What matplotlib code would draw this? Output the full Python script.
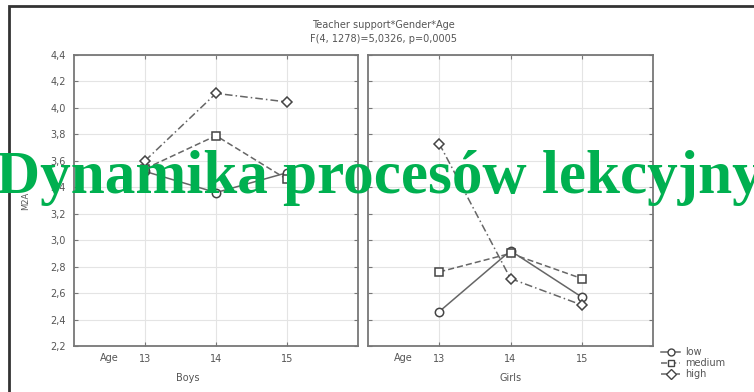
import matplotlib
matplotlib.use("Agg")
import matplotlib.pyplot as plt
from matplotlib.lines import Line2D
from matplotlib.patches import Rectangle

# mean scores by teacher-support level, for ages 13-15
ages = [13, 14, 15]
age_labels = ["13", "14", "15"]
levels = ["low", "medium", "high"]
boys_low = [3.52, 3.36, 3.51]
boys_medium = [3.54, 3.79, 3.46]
boys_high = [3.60, 4.11, 4.045]
girls_low = [2.46, 2.92, 2.57]
girls_medium = [2.76, 2.90, 2.71]
girls_high = [3.73, 2.71, 2.51]
y_ticks = [2.2, 2.4, 2.6, 2.8, 3.0, 3.2, 3.4, 3.6, 3.8, 4.0, 4.2, 4.4]

W, H = 754, 392
fig = plt.figure(figsize=(W / 100, H / 100), dpi=100)

line_c = "#666666"
text_c = "#555555"
styles = {
    "low": dict(marker="o", linestyle="-"),
    "medium": dict(marker="s", linestyle=(0, (4, 2))),
    "high": dict(marker="D", linestyle=(0, (5, 2, 1, 2))),
}

# outer frame of the figure
fig.patches.append(Rectangle((9 / W, -0.05), 1.1, 1.05 - 6 / H, transform=fig.transFigure,
                             fill=False, edgecolor="#333333", linewidth=2))


def panel(left_px, right_px, series, xlabel, xlabel_x):
    ax = fig.add_axes([left_px / W, (H - 346) / H, (right_px - left_px) / W, 291 / H])
    for name, vals in zip(levels, series):
        st = styles[name]
        ax.plot(ages, vals, color=line_c, linewidth=1.1, linestyle=st["linestyle"],
                marker=st["marker"], markersize=6 if st["marker"] != "D" else 5,
                markerfacecolor="white", markeredgecolor="#444444", markeredgewidth=1.1)
    ax.set_xlim(12, 16)
    ax.set_ylim(2.2, 4.4)
    ax.set_xticks(ages)
    ax.set_xticklabels(age_labels)
    ax.set_yticks(y_ticks)
    ax.grid(True, color="#e4e4e4", linewidth=0.8)
    ax.set_axisbelow(True)
    ax.tick_params(direction="in", length=3, color="#777777", labelsize=7,
                   labelcolor=text_c, right=True, top=True, pad=6)
    for s in ax.spines.values():
        s.set_color("#777777")
        s.set_linewidth(1.3)
    ax.text(12.5, -12 / 291, "Age", transform=ax.get_xaxis_transform(), ha="center",
            va="center", fontsize=7, color=text_c)
    ax.text(xlabel_x, -32 / 291, xlabel, transform=ax.get_xaxis_transform(), ha="center",
            va="center", fontsize=7, color=text_c)
    return ax


ax1 = panel(74, 358, [boys_low, boys_medium, boys_high], "Boys", 13.6)
ax1.set_yticklabels([f"{v:.1f}".replace(".", ",") for v in y_ticks])
ax1.set_ylabel("M2A", fontsize=6, color=text_c, labelpad=14)
ax2 = panel(368, 653, [girls_low, girls_medium, girls_high], "Girls", 14.0)
ax2.set_yticklabels([])

fig.text(383 / W, 1 - 25 / H, "Teacher support*Gender*Age", ha="center", va="center",
         fontsize=7, color=text_c)
fig.text(383 / W, 1 - 39 / H, "F(4, 1278)=5,0326, p=0,0005", ha="center", va="center",
         fontsize=7, color=text_c)

handles = [Line2D([], [], color=line_c, linewidth=1.1, linestyle=styles[n]["linestyle"],
                  marker=styles[n]["marker"], markersize=5, markerfacecolor="white",
                  markeredgecolor="#444444") for n in levels]
fig.legend(handles, levels, loc="center left", bbox_to_anchor=(656 / W, 1 - 363 / H),
           frameon=False, fontsize=7, labelcolor=text_c, handlelength=2.0,
           handletextpad=0.5, labelspacing=0.1, borderpad=0)

fig.text(-4 / W, 1 - 193 / H, "Dynamika procesów lekcyjnych", ha="left", va="baseline",
         fontsize=44, fontweight="bold", family="Liberation Serif", color="#00b050")

fig.savefig("out.png", dpi=100)
